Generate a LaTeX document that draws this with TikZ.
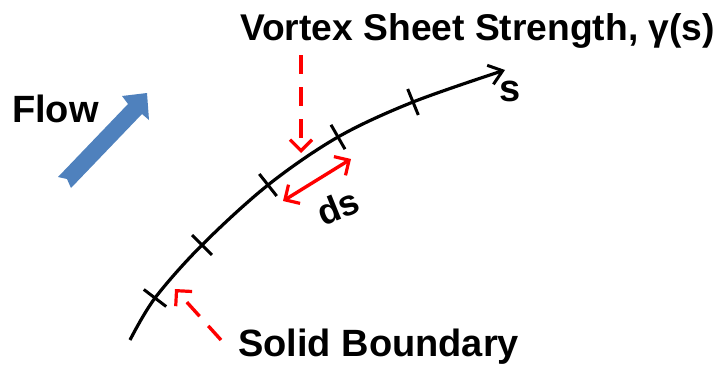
\documentclass[tikz,border=0pt]{standalone}
\usepackage{fontspec}
\setmainfont{Liberation Sans}
\usetikzlibrary{arrows.meta}
\definecolor{flowblue}{RGB}{79,129,189}
\definecolor{annred}{RGB}{255,0,0}
\tikzset{
  lbl/.style={inner sep=0pt, anchor=base west, font=\bfseries\fontsize{38}{42}\selectfont},
  boundary/.style={line width=3.2pt, black},
  tick/.style={line width=3pt, black},
  annot/.style={line width=3.4pt, annred},
  dashedannot/.style={annot, dash pattern=on 19pt off 13pt},
  redbarb/.tip={Straight Barb[length=11pt,width=22pt,line width=3.2pt]},
  blackbarb/.tip={Straight Barb[length=13pt,width=20pt,line width=3pt]}
}
\begin{document}
\begin{tikzpicture}[x=1pt,y=-1pt]
\useasboundingbox (0,0) rectangle (722,367);
% labels
\node[lbl, font=\bfseries\fontsize{37.2}{42}\selectfont] (title) at (240,40) {Vortex Sheet Strength, γ(s)};
\node[lbl] (flow) at (12,122) {Flow};
\node[lbl] (solid) at (238,356) {Solid Boundary};
\node[lbl] (s) at (499,101) {s};
\node[inner sep=0pt, font=\bfseries\fontsize{36}{40}\selectfont, rotate=22] (ds) at (338,207) {ds};
% flow arrow
\fill[flowblue] (58,177) -- (128,104) -- (122,96) -- (147,93) -- (149,120) -- (142,114)
  -- (71,188) -- (67,179) -- cycle;
% boundary curve
\coordinate (p0) at (130,340);
\coordinate (t1) at (155,298);
\coordinate (t2) at (202,245);
\coordinate (t3) at (268,185);
\coordinate (t4) at (338,137);
\coordinate (t5) at (413,102);
\coordinate (pend) at (505,70);
\draw[boundary, -{blackbarb}] plot[smooth, tension=0.55] coordinates {(130,340) (155,298) (202,245) (268,185) (338,137) (413,102) (505,70)};
% ticks
\draw[tick] (t1) ++(-11.2,-8.5) -- ++(22.4,17);
\draw[tick] (t2) ++(-9.9,-9.9) -- ++(19.8,19.8);
\draw[tick] (t3) ++(-8.7,-11) -- ++(17.4,22);
\draw[tick] (t4) ++(-7,-12.2) -- ++(14,24.4);
\draw[tick] (t5) ++(-5.3,-13) -- ++(10.6,26);
% red annotations
\coordinate (vtop) at (301,55);
\coordinate (vtip) at (301,153);
\draw[dashedannot, -{redbarb}] (vtop) -- (vtip);
\coordinate (dsa) at (283,201);
\coordinate (dsb) at (351,159);
\draw[annot, {redbarb}-{redbarb}] (dsa) -- (dsb);
\coordinate (stail) at (221,340);
\coordinate (stip) at (175,289);
\draw[dashedannot, -{redbarb}] (stail) -- (stip);
\end{tikzpicture}
\end{document}
